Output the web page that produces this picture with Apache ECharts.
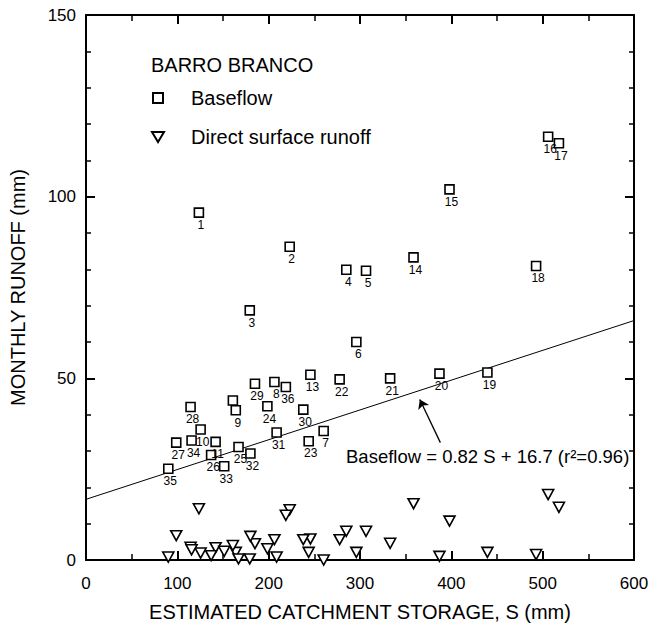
<!DOCTYPE html>
<html><head><meta charset="utf-8">
<script src="https://cdn.jsdelivr.net/npm/echarts@6/dist/echarts.min.js"></script>
<style>html,body{margin:0;padding:0;background:#fff}#c{width:663px;height:628px}</style>
</head><body><div id="c"></div>
<script>
// Point ids (months) 1..36
const pointIds = ['1','2','3','4','5','6','7','8','9','10','11','12','13','14','15','16','17','18','19','20','21','22','23','24','25','26','27','28','29','30','31','32','33','34','35','36'];
// Estimated catchment storage S (mm)
const storageS = [123.6,223,179.3,285,306.6,296,260.2,206.3,164,125.5,141.9,160.8,245.7,358.6,398,506,517.8,492.8,439.5,387,333,277.7,243.8,198.6,167,137,98.8,114.5,185,237.9,208.7,180,151.3,115.6,90.1,218.8];
// Baseflow (mm)
const baseflow = [95.6,86.2,68.7,79.9,79.6,60,35.5,49,41.2,35.9,32.5,43.9,51,83.3,102,116.5,114.7,80.9,51.6,51.3,50,49.7,32.7,42.3,31.1,28.9,32.3,42.1,48.5,41.4,35.1,29.3,25.8,32.9,25.1,47.6];
// Direct surface runoff (mm)
const directRunoff = [14.1,13.8,0.3,7.9,7.9,2.1,0,5.6,2.1,1.9,3.4,4,5.8,15.5,10.7,18,14.5,1.5,2.1,1,4.6,5.6,2.1,3.1,0.3,1.2,6.7,3.5,4.5,5.6,0.8,6.5,2.4,2.8,0.8,12.3];
// Regression line end points
const fitS = [0, 600];
const fitR = [16.7, 65.9];
// Arrow annotation (tail -> head) in data units
const arrowS = [388, 365.5];
const arrowR = [32.3, 44.2];
const xTicks = [0,100,200,300,400,500,600];
const yTicks = [0,50,100,150];

// label style tweaks (not data)
const hiddenLabels = {'12': true};

const FONT = 'Liberation Sans, Arial, Helvetica, sans-serif';
const chart = echarts.init(document.getElementById('c'), null, {renderer: 'svg'});

const axisCommon = {
  axisLine: {show: true, onZero: false, lineStyle: {color: '#000', width: 2}},
  splitLine: {show: false}
};
const tickStyle = {show: true, inside: true, length: 9, lineStyle: {color: '#000', width: 2}};

chart.setOption({
  animation: false,
  backgroundColor: '#fff',
  textStyle: {fontFamily: FONT, color: '#000'},
  grid: {left: 85, right: 29, top: 15, bottom: 68},
  title: {
    text: 'BARRO BRANCO', left: 151, top: 54, padding: 0,
    textStyle: {fontFamily: FONT, fontSize: 20, fontWeight: 'normal', color: '#000', lineHeight: 22}
  },
  legend: {
    left: 151, top: 87, padding: 0, orient: 'vertical', itemGap: 17,
    itemWidth: 12, itemHeight: 10, selectedMode: false,
    textStyle: {fontFamily: FONT, fontSize: 20, color: '#000', lineHeight: 22, padding: [0,0,0,22]},
    data: [
      {name: 'Baseflow', icon: 'path://M1,0L11,0L11,10L1,10Z'},
      {name: 'Direct surface runoff', icon: 'path://M0,0L12,0L6,10Z'}
    ]
  },
  xAxis: [
    Object.assign({}, axisCommon, {
      type: 'value', min: xTicks[0], max: xTicks[xTicks.length-1], interval: 100, position: 'bottom',
      name: 'ESTIMATED CATCHMENT STORAGE, S (mm)', nameLocation: 'middle', nameGap: 42,
      nameTextStyle: {fontFamily: FONT, fontSize: 20, color: '#000'},
      axisTick: tickStyle,
      minorTick: {show: true, splitNumber: 2, length: 6, lineStyle: {color: '#000', width: 1.5}},
      axisLabel: {fontFamily: FONT, fontSize: 17, color: '#000', margin: 15}
    }),
    Object.assign({}, axisCommon, {
      type: 'value', min: xTicks[0], max: xTicks[xTicks.length-1], interval: 100, position: 'top',
      axisTick: tickStyle,
      minorTick: {show: true, splitNumber: 2, length: 6, lineStyle: {color: '#000', width: 1.5}},
      axisLabel: {show: false}
    })
  ],
  yAxis: [
    Object.assign({}, axisCommon, {
      type: 'value', min: yTicks[0], max: yTicks[yTicks.length-1], interval: 50, position: 'left',
      name: 'MONTHLY RUNOFF (mm)', nameLocation: 'middle', nameGap: 58, nameRotate: 90,
      nameTextStyle: {fontFamily: FONT, fontSize: 20, color: '#000'},
      axisTick: tickStyle,
      minorTick: {show: true, splitNumber: 5, length: 5, lineStyle: {color: '#000', width: 1.5}},
      axisLabel: {fontFamily: FONT, fontSize: 17, color: '#000', margin: 10}
    }),
    Object.assign({}, axisCommon, {
      type: 'value', min: yTicks[0], max: yTicks[yTicks.length-1], interval: 50, position: 'right',
      axisTick: tickStyle,
      minorTick: {show: true, splitNumber: 5, length: 5, lineStyle: {color: '#000', width: 1.5}},
      axisLabel: {show: false}
    })
  ],
  series: [
    {
      name: 'Baseflow', type: 'scatter', xAxisIndex: 0, yAxisIndex: 0,
      symbol: 'rect', symbolSize: 9,
      itemStyle: {color: '#fff', borderColor: '#000', borderWidth: 1.6, opacity: 1},
      data: storageS.map((s, i) => ({
        value: [s, baseflow[i]],
        label: {show: !hiddenLabels[pointIds[i]]}
      })),
      label: {
        show: true, position: 'bottom', distance: 1,
        formatter: p => pointIds[p.dataIndex],
        fontFamily: FONT, fontSize: 12, color: '#000', offset: [2, 0]
      },
      z: 4
    },
    {
      name: 'Direct surface runoff', type: 'scatter', xAxisIndex: 0, yAxisIndex: 0,
      symbol: 'triangle', symbolRotate: 180, symbolSize: [11, 10],
      itemStyle: {color: '#fff', borderColor: '#000', borderWidth: 1.6, opacity: 1},
      data: storageS.map((s, i) => [s, directRunoff[i]]),
      clip: false,
      z: 4
    },
    {
      name: 'fit', type: 'line', xAxisIndex: 0, yAxisIndex: 0,
      data: fitS.map((s, i) => [s, fitR[i]]),
      symbol: 'none', lineStyle: {color: '#000', width: 1}, silent: true, z: 3
    },
    {
      name: 'arrow', type: 'lines', coordinateSystem: 'cartesian2d', xAxisIndex: 0, yAxisIndex: 0,
      symbol: ['none', 'arrow'], symbolSize: 9,
      lineStyle: {color: '#000', width: 1.3, opacity: 1},
      data: [{coords: arrowS.map((s, i) => [s, arrowR[i]])}], z: 3
    }
  ],
  graphic: [
    {
      type: 'text', left: 346, top: 447, z: 10,
      style: {text: 'Baseflow = 0.82 S + 16.7 (r²=0.96)', font: '18.5px ' + FONT, fill: '#000'}
    }
  ]
});
</script>
</body></html>
